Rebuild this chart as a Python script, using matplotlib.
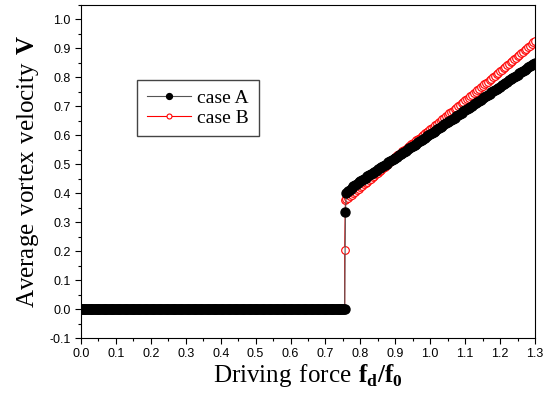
import matplotlib
matplotlib.use("Agg")
import matplotlib.pyplot as plt
from matplotlib.ticker import MultipleLocator

plt.rcParams["font.family"] = "Liberation Sans"
plt.rcParams["mathtext.fontset"] = "custom"
plt.rcParams["mathtext.rm"] = "Liberation Serif"
plt.rcParams["mathtext.bf"] = "Liberation Serif:bold"

# pinned (zero-velocity) regime, sampled every 0.0025 up to the threshold
x_pinned = [round(0.0025 * i, 4) for i in range(303)]
v_pinned = [0.0] * len(x_pinned)

# flowing regime, sampled every 0.005 from f = 0.76
va_flow = [0.400, 0.406, 0.412, 0.418, 0.423, 0.428, 0.432, 0.437, 0.441, 0.446,
           0.450, 0.454, 0.458, 0.462, 0.466, 0.470, 0.474, 0.478, 0.482, 0.486,
           0.490, 0.494, 0.498, 0.502, 0.506, 0.510, 0.514, 0.518, 0.522, 0.526,
           0.530, 0.534, 0.538, 0.543, 0.547, 0.551, 0.555, 0.559, 0.563, 0.567,
           0.571, 0.575, 0.579, 0.584, 0.588, 0.592, 0.596, 0.600, 0.604, 0.608,
           0.612, 0.616, 0.620, 0.625, 0.629, 0.633, 0.637, 0.641, 0.645, 0.649,
           0.653, 0.657, 0.661, 0.666, 0.670, 0.674, 0.678, 0.682, 0.686, 0.690,
           0.694, 0.698, 0.702, 0.707, 0.711, 0.715, 0.719, 0.723, 0.727, 0.731,
           0.735, 0.739, 0.743, 0.748, 0.752, 0.756, 0.760, 0.764, 0.768, 0.772,
           0.776, 0.780, 0.784, 0.789, 0.793, 0.797, 0.801, 0.805, 0.809, 0.813,
           0.817, 0.821, 0.825, 0.830, 0.834, 0.838, 0.842, 0.846, 0.850]
vb_flow = [0.380, 0.385, 0.390, 0.395, 0.400, 0.405, 0.410, 0.415, 0.420, 0.425,
           0.430, 0.435, 0.440, 0.445, 0.450, 0.455, 0.460, 0.465, 0.470, 0.476,
           0.481, 0.487, 0.492, 0.498, 0.503, 0.509, 0.514, 0.520, 0.525, 0.530,
           0.534, 0.539, 0.544, 0.549, 0.553, 0.558, 0.563, 0.568, 0.572, 0.577,
           0.582, 0.587, 0.591, 0.596, 0.601, 0.606, 0.610, 0.615, 0.620, 0.625,
           0.630, 0.635, 0.640, 0.645, 0.650, 0.655, 0.660, 0.665, 0.670, 0.675,
           0.680, 0.685, 0.690, 0.695, 0.700, 0.705, 0.710, 0.715, 0.720, 0.725,
           0.730, 0.735, 0.740, 0.745, 0.750, 0.755, 0.760, 0.765, 0.770, 0.775,
           0.780, 0.785, 0.790, 0.795, 0.800, 0.805, 0.810, 0.815, 0.820, 0.825,
           0.831, 0.836, 0.841, 0.846, 0.852, 0.857, 0.862, 0.867, 0.873, 0.878,
           0.883, 0.888, 0.894, 0.899, 0.904, 0.909, 0.915, 0.920, 0.925]
x_flow = [round(0.76 + 0.005 * i, 3) for i in range(len(va_flow))]

# points caught on the jump itself
xa_jump, va_jump = [0.757], [0.335]
xb_jump, vb_jump = [0.755, 0.757], [0.205, 0.375]

xa = x_pinned + xa_jump + x_flow
va = v_pinned + va_jump + va_flow
xb = x_pinned + xb_jump + x_flow
vb = v_pinned + vb_jump + vb_flow

fig = plt.figure(figsize=(5.51, 4.01), dpi=100)
ax = fig.add_axes([0.147, 0.157, 0.824, 0.831])

ax.plot(xb, vb, "-", color="red", lw=0.8, marker="o", ms=5.5, mfc="white",
        mec="red", mew=0.8, label="case B", zorder=2)
ax.plot(xa, va, "-", color="#555555", lw=0.8, marker="o", ms=6.5, mfc="black",
        mec="black", label="case A", zorder=3)

ax.set_xlim(0.0, 1.3)
ax.set_ylim(-0.1, 1.05)
ax.xaxis.set_major_locator(MultipleLocator(0.1))
ax.xaxis.set_minor_locator(MultipleLocator(0.05))
ax.yaxis.set_major_locator(MultipleLocator(0.1))
ax.yaxis.set_minor_locator(MultipleLocator(0.05))
ax.xaxis.set_major_formatter(plt.FuncFormatter(lambda v, p: f"{v:.1f}"))
ax.yaxis.set_major_formatter(plt.FuncFormatter(lambda v, p: f"{v:.1f}"))
ax.tick_params(which="major", direction="out", length=4, width=0.8, labelsize=9)
ax.tick_params(which="minor", direction="out", length=2.5, width=0.8)

ax.set_xlabel(r"$\mathrm{Driving\ force\ }\mathbf{f}_{\mathbf{d}}\mathbf{/f}_{\mathbf{0}}$",
              fontsize=18, labelpad=1)
ax.set_ylabel(r"$\mathrm{Average\ vortex\ velocity\ }\mathbf{V}$", fontsize=18, labelpad=6)

handles, labels = ax.get_legend_handles_labels()
ax.legend(handles[::-1], labels[::-1], loc="upper left", bbox_to_anchor=(0.123, 0.775),
          frameon=True, fancybox=False, edgecolor="#444444", framealpha=1,
          prop={"family": "Liberation Serif", "size": 14}, handlelength=2.3,
          markerscale=0.65, borderpad=0.5, labelspacing=0.1, handletextpad=0.3,
          borderaxespad=0)

fig.savefig("out.png", dpi=100)
